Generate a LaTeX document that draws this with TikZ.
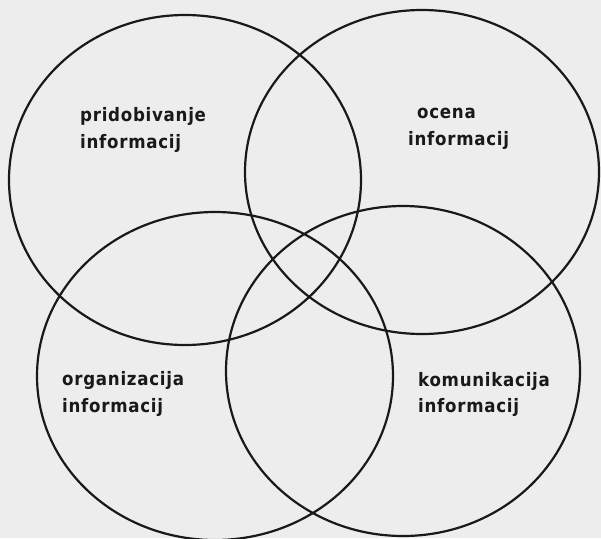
\documentclass[tikz,border=0pt]{standalone}
\usepackage{fontspec}
\newfontfamily\labelfont[LetterSpace=4]{DejaVu Sans Condensed}
\begin{document}
\begin{tikzpicture}[x=1pt,y=-1pt,
  ring/.style={draw=black!90,line width=2.2pt},
  lab/.style={anchor=base west,inner sep=0pt,font=\labelfont\bfseries\fontsize{18.5pt}{21pt}\selectfont,text=black!90}]
\fill[black!7] (0,0) rectangle (601,538);
\useasboundingbox (0,0) rectangle (601,538);
\draw[ring] (185,180) ellipse [x radius=176pt, y radius=165pt];
\draw[ring] (422,172) ellipse [x radius=177pt, y radius=162pt];
\draw[ring] (215,376) ellipse [x radius=178pt, y radius=164pt];
\draw[ring] (403,371) ellipse [x radius=177pt, y radius=165pt];
\node[lab] (tla) at (80,121) {pridobivanje};
\node[lab] (tlb) at (80,148) {informacij};
\node[lab] (tra) at (417,118) {ocena};
\node[lab] (trb) at (408,145) {informacij};
\node[lab] (bla) at (62,385) {organizacija};
\node[lab] (blb) at (62,412) {informacij};
\node[lab] (bra) at (418,386) {komunikacija};
\node[lab] (brb) at (418,412) {informacij};
\end{tikzpicture}
\end{document}
